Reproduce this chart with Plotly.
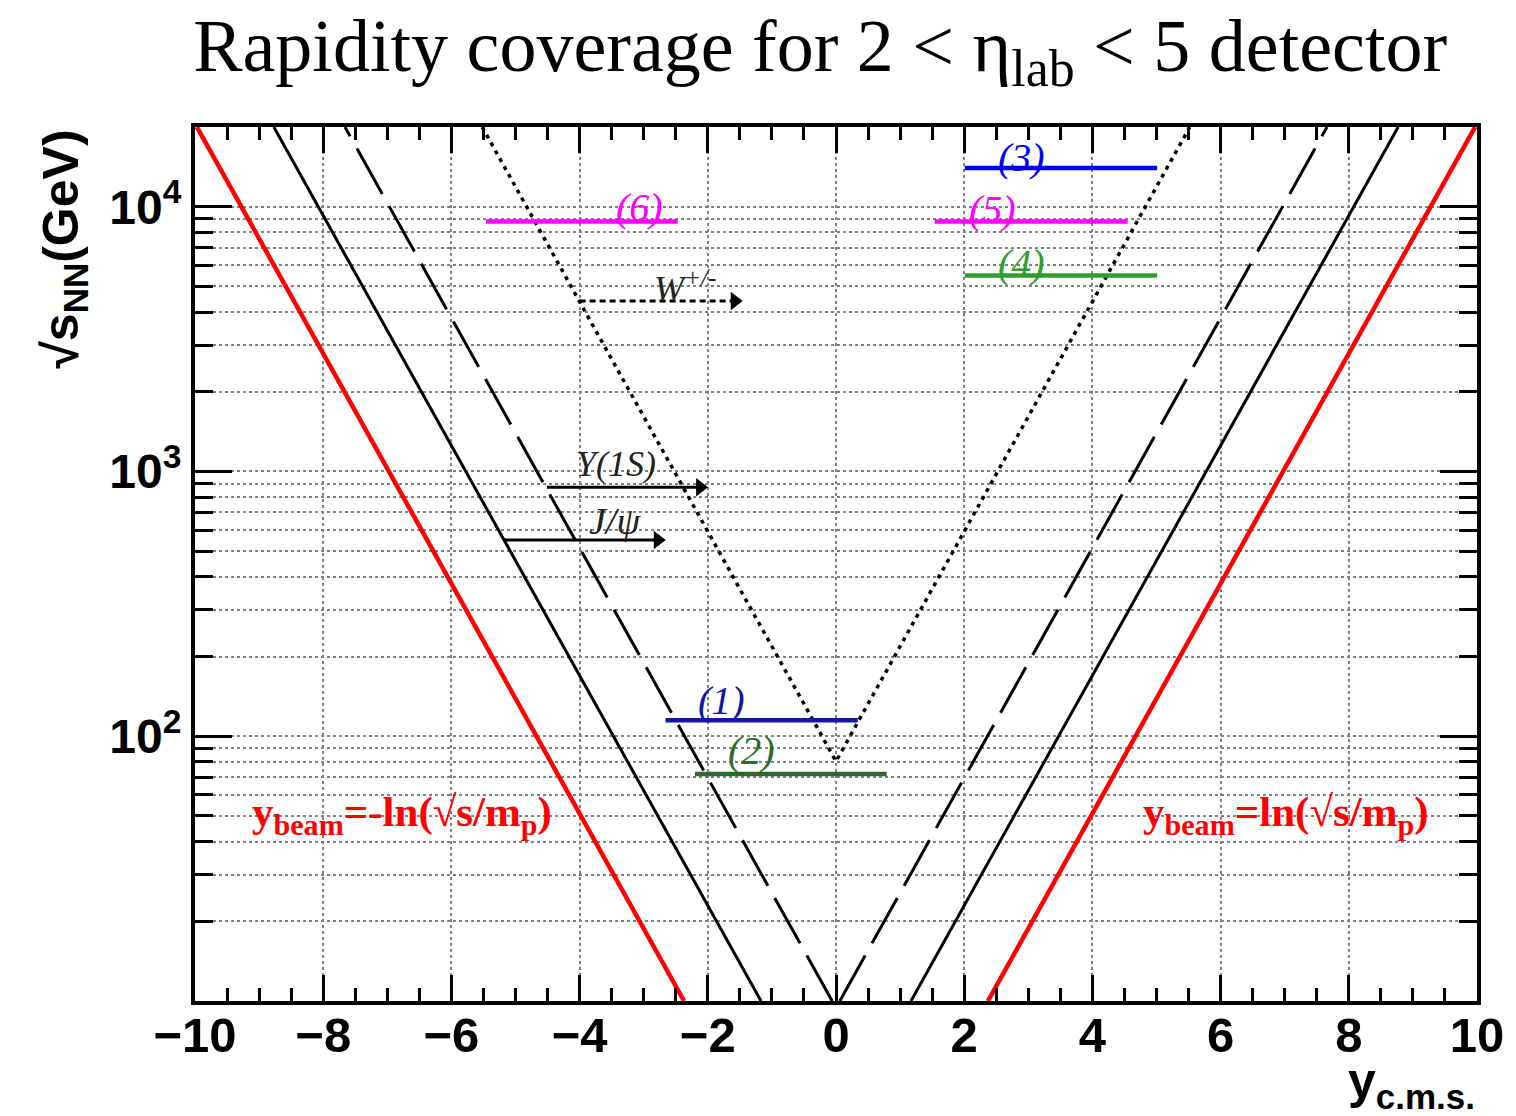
import numpy as np
import plotly.graph_objects as go

# ---------------- data ----------------
# frame limits
x_range = [-10, 10]
sqrt_s_range = [10, 20000]

# kinematic limit lines: rapidity at bottom (10 GeV) and top (20 TeV) of frame
sqrt_s_ends = [10, 20000]
ybeam_right_x = [2.37, 9.97]
ybeam_left_x = [-2.37, -9.97]
jpsi_right_x = [1.17, 8.77]
jpsi_left_x = [-1.17, -8.77]
upsilon_right_x = [0.06, 7.66]
upsilon_left_x = [-0.06, -7.66]
w_x = [-5.52, 0.0, 5.52]
w_sqrt_s = [20000, 80.4, 20000]

# experiment coverage segments
seg_names = ["(1)", "(2)", "(3)", "(4)", "(5)", "(6)"]
seg_sqrt_s = [115, 72, 14000, 5500, 8800, 8800]
seg_x_start = [-2.66, -2.20, 2.01, 2.01, 1.54, -5.46]
seg_x_end = [0.34, 0.79, 5.01, 5.01, 4.55, -2.47]
seg_colors = ["#1414a6", "#2c6b2c", "#0000ff", "#2e9e2e", "#ff00ff", "#ff00ff"]
seg_label_x = [-1.79, -1.32, 2.90, 2.90, 2.44, -3.06]
seg_label_sqrt_s = [137, 88.7, 15400, 6080, 9720, 9890]

# arrows (particle labels)
arrow_names = ["W<sup>+/-</sup>", "Υ(1S)", "J/ψ"]
arrow_x_start = [-4.00, -4.51, -5.19]
arrow_x_end = [-1.46, -2.00, -2.66]
arrow_sqrt_s = [4400, 872, 551]
arrow_dash = ["6px,4px", "solid", "solid"]
arrow_label_x = [-2.35, -3.43, -3.45]
arrow_label_sqrt_s = [5000, 1070, 650]
arrow_label_size = [36, 36, 38]

# tick labels
x_tickvals = [-10, -8, -6, -4, -2, 0, 2, 4, 6, 8, 10]
x_ticktext = ["\u221210", "\u22128", "\u22126", "\u22124", "\u22122", "0", "2", "4", "6", "8", "10"]
y_tickvals = [100, 1000, 10000]
y_ticktext = ["10<sup>2</sup>", "10<sup>3</sup>", "10<sup>4</sup>"]
y_minor_vals = [m * 10 ** e for e in (1, 2, 3) for m in range(2, 10)] + [20000]

# ---------------- figure ----------------
fig = go.Figure()

def branch(xs, ss, color, width, dash):
    fig.add_trace(go.Scatter(x=xs, y=ss, mode="lines",
                             line=dict(color=color, width=width, dash=dash),
                             showlegend=False, hoverinfo="skip"))

branch(ybeam_left_x, sqrt_s_ends, "#ff0000", 4.5, "solid")
branch(ybeam_right_x, sqrt_s_ends, "#ff0000", 4.5, "solid")
branch(jpsi_left_x, sqrt_s_ends, "black", 3, "solid")
branch(jpsi_right_x, sqrt_s_ends, "black", 3, "solid")
branch(upsilon_left_x, sqrt_s_ends, "black", 3, "52px,14px")
branch(upsilon_right_x, sqrt_s_ends, "black", 3, "52px,14px")
branch(w_x, w_sqrt_s, "black", 3.5, "4px,5px")

for i in range(len(seg_names)):
    fig.add_trace(go.Scatter(x=[seg_x_start[i], seg_x_end[i]],
                             y=[seg_sqrt_s[i], seg_sqrt_s[i]], mode="lines",
                             line=dict(color=seg_colors[i], width=4.5),
                             showlegend=False, hoverinfo="skip"))
    fig.add_annotation(x=seg_label_x[i], y=np.log10(seg_label_sqrt_s[i]),
                       xref="x", yref="y", text="<i>" + seg_names[i] + "</i>",
                       showarrow=False,
                       font=dict(family="Liberation Serif", size=40, color=seg_colors[i]))

for i in range(len(arrow_names)):
    fig.add_trace(go.Scatter(x=[arrow_x_start[i], arrow_x_end[i] - 0.12],
                             y=[arrow_sqrt_s[i], arrow_sqrt_s[i]], mode="lines",
                             line=dict(color="black", width=3, dash=arrow_dash[i]),
                             showlegend=False, hoverinfo="skip"))
    fig.add_trace(go.Scatter(x=[arrow_x_end[i] - 0.12], y=[arrow_sqrt_s[i]], mode="markers",
                             marker=dict(symbol="triangle-right", size=16, color="black"),
                             showlegend=False, hoverinfo="skip"))
    fig.add_annotation(x=arrow_label_x[i], y=np.log10(arrow_label_sqrt_s[i]),
                       xref="x", yref="y", text="<i>" + arrow_names[i] + "</i>",
                       showarrow=False,
                       font=dict(family="Liberation Serif", size=arrow_label_size[i],
                                 color="#222222"))

# red y_beam labels
fig.add_annotation(x=-6.77, y=np.log10(50.5), xref="x", yref="y",
                   text="<b>y<sub>beam</sub>=-ln(√s/m<sub>p</sub>)</b>", showarrow=False,
                   font=dict(family="Liberation Serif", size=43, color="#ff0000"))
fig.add_annotation(x=7.02, y=np.log10(50.5), xref="x", yref="y",
                   text="<b>y<sub>beam</sub>=ln(√s/m<sub>p</sub>)</b>", showarrow=False,
                   font=dict(family="Liberation Serif", size=43, color="#ff0000"))

# axis titles
fig.add_annotation(x=-0.102, y=0.86, xref="paper", yref="paper", textangle=-90,
                   text="<b>√s<sub>NN</sub>(GeV)</b>", showarrow=False,
                   xanchor="center", yanchor="middle",
                   font=dict(family="Liberation Sans", size=50, color="black"))
fig.add_annotation(x=1.0, y=-0.096, xref="paper", yref="paper",
                   text="<b>y<sub>c.m.s.</sub></b>", showarrow=False,
                   xanchor="right", yanchor="middle",
                   font=dict(family="Liberation Sans", size=50, color="black"))

grid_col = "#808080"
fig.update_layout(
    width=1516, height=1116,
    margin=dict(l=195, r=33, t=127, b=115),
    paper_bgcolor="white", plot_bgcolor="white",
    title=dict(text="Rapidity coverage for 2 &lt; η<sub>lab</sub> &lt; 5 detector",
               x=0.541, xanchor="center", y=0.96, yanchor="middle",
               font=dict(family="Liberation Serif", size=74, color="black")),
    xaxis=dict(range=x_range, tickmode="array", tickvals=x_tickvals, ticktext=x_ticktext,
               ticks="inside", ticklen=26, tickwidth=3, tickcolor="black",
               ticklabelstandoff=-12,
               showline=True, linewidth=4, linecolor="black", mirror="ticks",
               showgrid=True, gridcolor=grid_col, gridwidth=1.5, griddash="dot",
               zeroline=False,
               minor=dict(dtick=0.5, tick0=-10, ticks="inside", ticklen=13, tickwidth=3,
                          tickcolor="black", showgrid=False),
               tickfont=dict(family="Liberation Sans", size=49, color="black", weight="bold")),
    yaxis=dict(type="log", range=[np.log10(sqrt_s_range[0]), np.log10(sqrt_s_range[1])],
               tickmode="array", tickvals=y_tickvals, ticktext=y_ticktext,
               ticks="inside", ticklen=37, tickwidth=3, tickcolor="black",
               showline=True, linewidth=4, linecolor="black", mirror="ticks",
               showgrid=True, gridcolor=grid_col, gridwidth=1.5, griddash="dot",
               zeroline=False,
               minor=dict(tickmode="array", tickvals=y_minor_vals, ticks="inside", ticklen=18,
                          tickwidth=3, tickcolor="black", showgrid=True,
                          gridcolor=grid_col, gridwidth=1.5, griddash="dot"),
               tickfont=dict(family="Liberation Sans", size=48, color="black", weight="bold")),
)

fig.write_html("out.html")
